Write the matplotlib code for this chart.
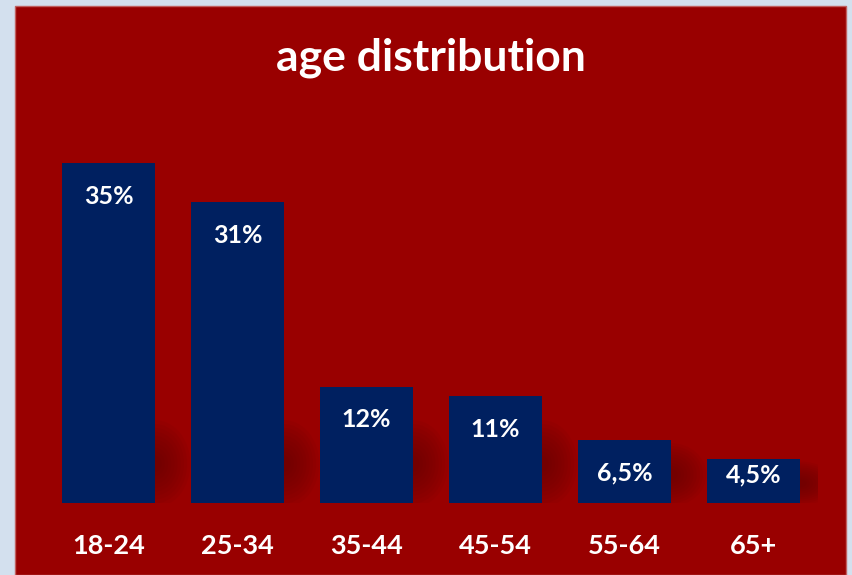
import matplotlib
matplotlib.use("Agg")
import matplotlib.pyplot as plt
from matplotlib.patches import Rectangle, Ellipse

categories = ["18-24", "25-34", "35-44", "45-54", "55-64", "65+"]
values = [35, 31, 12, 11, 6.5, 4.5]
value_labels = ["35%", "31%", "12%", "11%", "6,5%", "4,5%"]
title = "age distribution"

W, H = 852, 575
fig = plt.figure(figsize=(W / 100, H / 100), dpi=100)
fig.patch.set_facecolor("#D3E0EE")

# red panel
panel = Rectangle((15 / W, 0), (846 - 15) / W, (575 - 6) / H, transform=fig.transFigure,
                  facecolor="#990000", edgecolor="#C06060", linewidth=1.0, zorder=-5)
fig.patches.append(panel)

ax = fig.add_axes([44 / W, (H - 503) / H, 774 / W, 388 / H])
ax.set_zorder(2)
ax.set_facecolor("none")
x = list(range(len(categories)))
bars = ax.bar(x, values, width=0.72, color="#002060", zorder=3)
ax.set_xlim(-0.5, len(categories) - 0.5)
ax.set_ylim(0, 40)

# soft cast shadows behind bar bottoms
for xi, v in zip(x, values):
    h = min(v, 9.0)
    cy = h * 0.45
    for k in range(10):
        f = 1.0 - k * 0.09
        ax.add_patch(Ellipse((xi + 0.36, cy), 0.55 * f, h * f,
                             facecolor="#5a0000", alpha=0.07, edgecolor="none", zorder=2))

px_per_unit = 388 / 40
for xi, v, lab in zip(x, values, value_labels):
    off = 33 if v * px_per_unit > 60 else 16
    ax.annotate(lab, (xi, v), xytext=(0, -off), textcoords="offset pixels",
                ha="center", va="center", color="white", fontsize=18,
                fontweight="bold", family="Lato", zorder=4)

ax.set_xticks(x)
ax.set_xticklabels(categories, color="white", fontsize=19.5, fontweight="bold", family="Lato")
ax.tick_params(axis="x", length=0, pad=22)
ax.set_yticks([])
for s in ax.spines.values():
    s.set_visible(False)

fig.text(431 / W, 1 - 58 / H, title, ha="center", va="center", color="white",
         fontsize=32, fontweight="bold", family="Lato")

fig.savefig("out.png", dpi=100, facecolor=fig.get_facecolor())
